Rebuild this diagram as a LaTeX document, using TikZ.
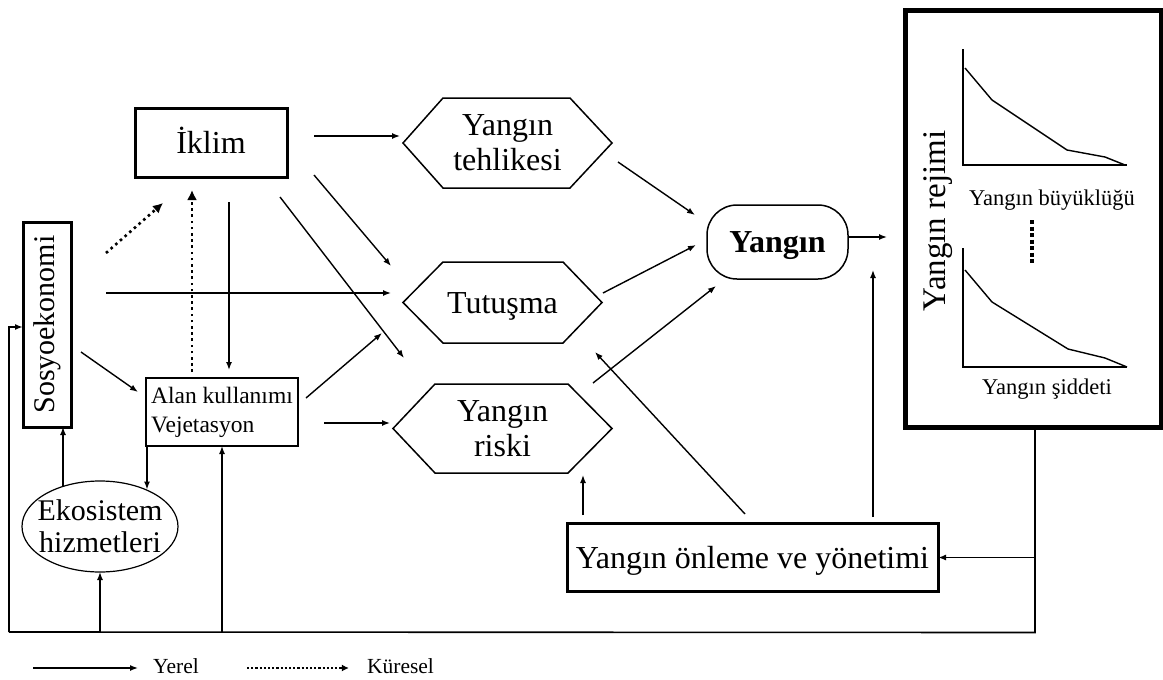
\documentclass[tikz,border=0pt]{standalone}
\usepackage{fontspec}
\setmainfont{Liberation Serif}
\usetikzlibrary{arrows.meta,calc,shapes.geometric}
\tikzset{
  arr/.style={line width=1.4pt, -{Latex[length=8pt,width=6pt]}},
  darr/.style={line width=2.6pt, dash pattern=on 2.6pt off 3.6pt, -{Latex[length=10pt,width=10pt]}},
  box/.style={draw, line width=3pt, inner sep=0pt, outer sep=0pt},
  hexnode/.style={inner sep=0pt, outer sep=0pt, align=center, font=\fontsize{32}{35}\selectfont},
  hexline/.style={line width=1.5pt, line join=miter},
  big/.style={font=\fontsize{32}{36}\selectfont},
  axis/.style={line width=2.4pt},
  curve/.style={line width=1.4pt},
}
\newcommand\drawhex[3]{\draw[hexline] (#1.west) -- ($(#1.north west)+(#2,0)$) -- ($(#1.north east)+(-#3,0)$) -- (#1.east) -- ($(#1.south east)+(-#3,0)$) -- ($(#1.south west)+(#2,0)$) -- cycle;}
\begin{document}
\begin{tikzpicture}[x=1pt,y=-1pt]
\useasboundingbox (0,0) rectangle (1163,680);
% nodes
\node[box, big, minimum width=152, minimum height=69, text height=21pt, text depth=0pt] (iklim) at (211,142.5) {İklim};
\node[box, minimum width=48, minimum height=205, font=\fontsize{30}{34}\selectfont] (sosyo) at (47,324.5) {\rotatebox{90}{Sosyoekonomi}};
\node[box, line width=2.5pt, minimum width=152, minimum height=68, align=left, font=\fontsize{23.5}{29}\selectfont] (alan) at (222,412) {Alan kullanımı\\Vejetasyon};
\node[hexnode, minimum width=209, minimum height=90] (teh) at (507.5,143) {Yangın\\tehlikesi};
\drawhex{teh}{40}{42}
\node[hexnode, minimum width=199, minimum height=81, text height=21pt, text depth=0pt] (tut) at (502.5,302.5) {Tutuşma};
\drawhex{tut}{40}{39}
\node[hexnode, minimum width=219, minimum height=89] (risk) at (502.5,428.5) {Yangın\\riski};
\drawhex{risk}{42}{44}
\node[draw, line width=1.5pt, rounded corners=30pt, minimum width=141, minimum height=74, inner sep=0pt, outer sep=0pt, text height=21pt, text depth=0pt, font=\bfseries\fontsize{32}{36}\selectfont] (yangin) at (777.5,242) {Yangın};
\node[draw, line width=5pt, minimum width=256, minimum height=417, inner sep=0pt, outer sep=0pt] (regime) at (1033,218.5) {};
\node[rotate=90, inner sep=0pt, font=\fontsize{33}{36}\selectfont] (rejimi) at (938,221) {Yangın rejimi};
\node[box, big, minimum width=371, minimum height=68, text height=21pt, text depth=0pt] (yonetim) at (752.5,557.5) {Yangın önleme ve yönetimi};
\node[draw, ellipse, line width=1.2pt, minimum width=156, minimum height=91, inner sep=0pt, outer sep=0pt,
  label={[align=center, inner sep=0pt, font=\fontsize{30}{32}\selectfont]center:Ekosistem\\hizmetleri}] (eko) at (100,526.5) {};
% plots inside regime box
\draw[axis] (963,49) -- (963,165) -- (1127,165);
\draw[curve] (965,68) -- (992,100) -- (1067,150) -- (1105,157) -- (1125,165);
\node[anchor=base, inner sep=0pt, font=\fontsize{22.5}{26}\selectfont] (buy) at (1052,205) {Yangın büyüklüğü};
\draw[line width=4.5pt, dash pattern=on 4pt off 2.5pt] (1032,220) -- (1032,263);
\draw[axis] (963,248) -- (963,367) -- (1127,367);
\draw[curve] (965,270) -- (992,302) -- (1068,349) -- (1105,358) -- (1127,367);
\node[anchor=base, inner sep=0pt, font=\fontsize{22.5}{26}\selectfont] (sid) at (1047,394) {Yangın şiddeti};
% connectors
\draw[arr] ($(iklim.east)+(27,-6.5)$) -- ($(teh.west)+(-3,-7)$);
\draw[arr] ($(iklim.south east)+(27,-2)$) -- ($(tut.north west)+(-12,4)$);
\draw[arr] ($(iklim.south east)+(-7,20)$) -- ($(risk.north west)+(11,-26)$);
\draw[arr] ($(iklim.south)+(18,25)$) -- ($(alan.north)+(7,-8)$);
\draw[darr] ($(alan.north)+(-30,-6)$) -- ($(iklim.south)+(-19,13)$);
\draw[darr] ($(sosyo.north east)+(35,31)$) -- ($(iklim.south west)+(28,26)$);
\draw[arr] ($(sosyo.east)+(35,-31.5)$) -- ($(tut.west)+(-12,-9.5)$);
\draw[arr] ($(sosyo.east)+(10,27.5)$) -- ($(alan.west)+(-8,-20)$);
\draw[arr] ($(alan.east)+(8,-14)$) -- ($(tut.south west)+(-21,-10)$);
\draw[arr] ($(alan.east)+(26,11)$) -- ($(risk.west)+(-3,-5.5)$);
\draw[arr] ($(teh.east)+(6,19)$) -- ($(yangin.north west)+(-12,10)$);
\draw[arr] ($(tut.east)+(1,-9.5)$) -- ($(yangin.west)+(-11,3)$);
\draw[arr] ($(risk.north east)+(-19,-1)$) -- ($(yangin.south west)+(9,7)$);
\draw[arr] ($(yangin.east)+(1,-5)$) -- ($(regime.west)+(-18,18.5)$);
\draw[arr] ($(yonetim.north west)+(16,-8.5)$) -- ($(risk.south)+(80.5,2)$);
\draw[arr] ($(yonetim.north)+(-7.5,-9.5)$) -- ($(tut.south east)+(-7,9)$);
\draw[arr] ($(yonetim.north east)+(-65,-6.5)$) -- ($(yangin.south east)+(25,-9)$);
\draw[arr] ($(eko.center)+(-37,-40)$) -- ($(sosyo.south)+(16,0)$);
\draw[arr] ($(alan.south west)+(1,0)$) -- ($(eko.center)+(47,-37)$);
% feedback loop
\coordinate (botR) at ($(regime.south)+(2,205.5)$);
\coordinate (botL) at (9,632);
\draw[line width=1.6pt] ($(regime.south)+(2,0)$) -- (botR) -- (botL);
\draw[arr, line width=1.6pt] (botL) |- ($(sosyo.west)+(0,2.5)$);
\draw[arr, line width=1.6pt] ($(regime.south)+(2,0)$) |- (yonetim.east);
\draw[arr] (eko.south |- botL) -- (eko.south);
\draw[arr] (alan.south |- botL) -- (alan.south);
% legend
\node[anchor=base, inner sep=0pt, font=\fontsize{21.5}{24}\selectfont] (yerel) at (176,673) {Yerel};
\node[anchor=base, inner sep=0pt, font=\fontsize{21.5}{24}\selectfont] (kuresel) at (400.5,673) {Küresel};
\coordinate (l1) at (33,668);
\coordinate (l2) at (247,668);
\draw[arr] (l1) -- (l1 -| yerel.west) [shorten >=15pt];
\draw[darr, line width=2.6pt, dash pattern=on 2.2pt off 2pt, -{Latex[length=7pt,width=7pt]}] (l2) -- (l2 -| kuresel.west) [shorten >=18pt];
\end{tikzpicture}
\end{document}
